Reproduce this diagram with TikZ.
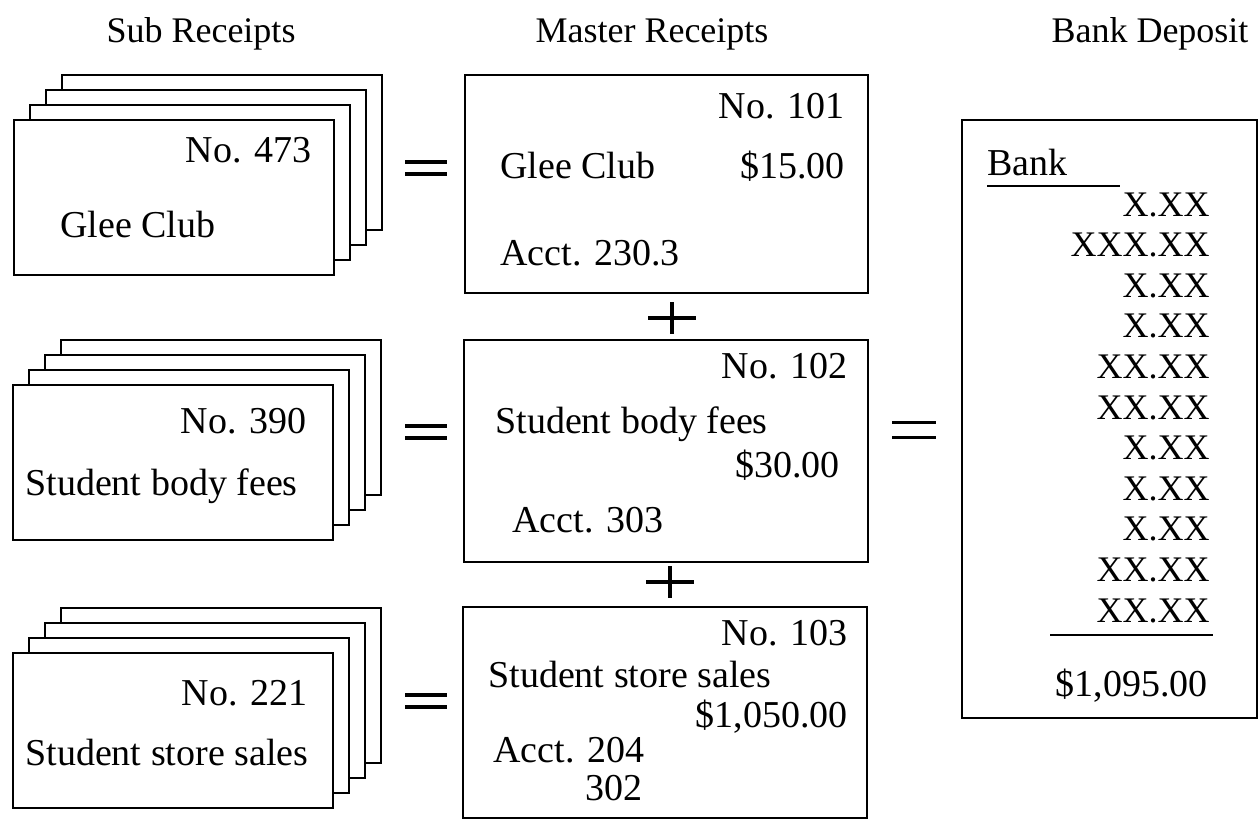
\documentclass[tikz,border=0pt]{standalone}
\usepackage{fontspec}
\setmainfont{Liberation Serif}
\tikzset{
  card/.style={draw, line width=1.4pt, fill=white},
  txt/.style={font=\fontsize{19}{23}\selectfont, inner sep=0pt},
  xtxt/.style={font=\fontsize{18}{22}\selectfont, inner sep=0pt, anchor=base east},
  head/.style={font=\fontsize{18}{22}\selectfont, inner sep=0pt, anchor=base},
  sign/.style={line width=1.7pt},
  rule/.style={line width=1.1pt}
}
\newcommand{\cardstack}[2]{%
  \foreach \k in {3,2,1,0}{
    \draw[card] ({#1+16*\k},{#2-15*\k}) rectangle ({#1+16*\k+320},{#2-15*\k+155});
  }%
}
\newcommand{\eqsign}[4]{% x y halfwidth gap
  \draw[sign] ({#1-#3},{#2-#4/2}) -- ({#1+#3},{#2-#4/2});
  \draw[sign] ({#1-#3},{#2+#4/2}) -- ({#1+#3},{#2+#4/2});
}
\newcommand{\plussign}[2]{%
  \draw[sign] ({#1-24},#2) -- ({#1+24},#2);
  \draw[sign] (#1,{#2-16}) -- (#1,{#2+16});
}
\begin{document}
\begin{tikzpicture}[x=0.5pt,y=-0.5pt]
\useasboundingbox (0,0) rectangle (1260,825);
% headers
\node[head] (h1) at (201,42) {Sub Receipts};
\node[head] (h2) at (652,42) {Master Receipts};
\node[head] (h3) at (1150,42) {Bank Deposit};
% sub receipt stacks
\cardstack{14}{120}
\node[txt, anchor=base east] (s1no) at (312,162) {No. 473};
\node[txt, anchor=base west] (s1t) at (60,237) {Glee Club};
\cardstack{13}{385}
\node[txt, anchor=base east] (s2no) at (307,433) {No. 390};
\node[txt, anchor=base west] (s2t) at (25,495) {Student body fees};
\cardstack{13}{653}
\node[txt, anchor=base east] (s3no) at (308,705) {No. 221};
\node[txt, anchor=base west] (s3t) at (25,765) {Student store sales};
% master receipts
\draw[card] (465,75) rectangle (868,293);
\node[txt, anchor=base east] (m1no) at (845,118) {No. 101};
\node[txt, anchor=base west] (m1t) at (500,178) {Glee Club};
\node[txt, anchor=base east] (m1a) at (845,178) {\$15.00};
\node[txt, anchor=base west] (m1c) at (500,265) {Acct. 230.3};
\draw[card] (464,340) rectangle (868,562);
\node[txt, anchor=base east] (m2no) at (848,378) {No. 102};
\node[txt, anchor=base west] (m2t) at (495,433) {Student body fees};
\node[txt, anchor=base east] (m2a) at (840,477) {\$30.00};
\node[txt, anchor=base west] (m2c) at (512,532) {Acct. 303};
\draw[card] (463,607) rectangle (867,818);
\node[txt, anchor=base east] (m3no) at (848,645) {No. 103};
\node[txt, anchor=base west] (m3t) at (488,687) {Student store sales};
\node[txt, anchor=base east] (m3a) at (848,727) {\$1,050.00};
\node[txt, anchor=base west] (m3c) at (493,762) {Acct. 204};
\node[txt, anchor=base west] (m3d) at (585,800) {302};
% plus signs
\plussign{672}{318}
\plussign{670}{582}
% equals signs
\eqsign{426}{168}{21}{12}
\eqsign{426}{432}{21}{12}
\eqsign{426}{701}{21}{12}
\eqsign{914}{430}{22}{15}
% bank deposit
\draw[card] (962,120) rectangle (1257,718);
\node[txt, anchor=base west] (bank) at (987,175) {Bank};
\draw[rule] (987,186) -- (1120,186);
\foreach \t [count=\i from 0] in {X.XX,XXX.XX,X.XX,X.XX,XX.XX,XX.XX,X.XX,X.XX,X.XX,XX.XX,XX.XX}{
  \node[xtxt] (x\i) at (1210,{216+40.6*\i}) {\t};
}
\draw[rule] (1050,635) -- (1213,635);
\node[txt, anchor=base east] (total) at (1208,696) {\$1,095.00};
\end{tikzpicture}
\end{document}
